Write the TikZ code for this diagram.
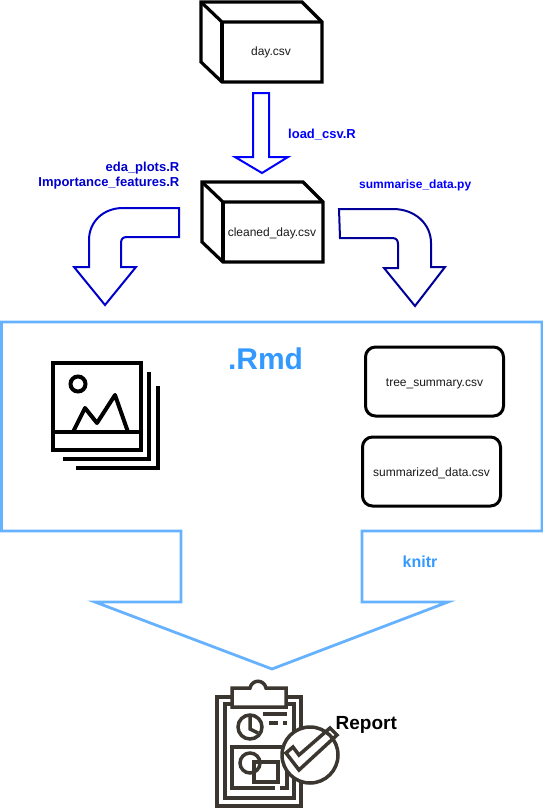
\documentclass[tikz,border=0pt]{standalone}
\usepackage{fontspec}
\setmainfont{Liberation Sans}
\usepackage{tikz}
\usetikzlibrary{calc,positioning}
\definecolor{rmdline}{HTML}{66B2FF}
\definecolor{rmdtext}{HTML}{3399FF}
\definecolor{iconink}{HTML}{3B3630}
\tikzset{
    filelabel/.style={font=\fontsize{12}{14}\selectfont, text=black!90},
    scriptlabel/.style={font=\fontsize{13}{15}\selectfont\bfseries, inner sep=0pt},
    filebox/.style={draw, line width=3pt, rounded corners=10pt, minimum width=138pt, minimum height=69pt, inner sep=0pt, text height=12pt, text depth=2pt},
    cubeline/.style={line width=3.2pt, line join=miter},
    rmdarrow/.style={draw=rmdline, line width=2.8pt, line join=miter},
    stackline/.style={line width=4.5pt},
    iconline/.style={draw=iconink, line width=3.5pt}
}
\begin{document}
\begin{tikzpicture}[x=1pt,y=-1pt]
\useasboundingbox (0,0) rectangle (543,811);

% data cubes
\foreach \cx/\cy in {201/2, 202/182} {
    \draw[cubeline, shift={(\cx,\cy)}] (0,0) -- (101,0) -- (121,20) -- (121,80) -- (21,80) -- (0,60) -- cycle;
    \draw[cubeline, shift={(\cx,\cy)}] (0,0) -- (21,20) -- (121,20);
    \draw[cubeline, shift={(\cx,\cy)}] (21,20) -- (21,80);
}
\node[filelabel] (day) at (271,52) {day.csv};
\node[filelabel] (cleaned) at (272,233) {cleaned\_day.csv};

% block arrow from day.csv
\draw[blue, line width=2pt] (253,93) -- (269,93) -- (269,157) -- (288,157) -- (262,173) -- (235,157) -- (253,157) -- cycle;
\node[scriptlabel, text=blue, anchor=west] (loadcsv) at (288,135) {load\_csv.R};

% block arrow to the plots
\draw[draw={rgb,255:red,0;green,0;blue,204}, line width=2pt] (179,208) -- (123,208) .. controls (103,208) and (89,222) .. (89,240) -- (89,267) -- (74,267) -- (105,305) -- (136,267) -- (121,267) -- (121,243) .. controls (121,239) and (123,237) .. (127,237) -- (179,237) -- cycle;
\node[scriptlabel, text={rgb,255:red,0;green,0;blue,204}, anchor=east] (edaplots) at (179.5,168) {eda\_plots.R};
\node[scriptlabel, text={rgb,255:red,0;green,0;blue,204}, anchor=east] (importance) at (179.5,183) {Importance\_features.R};

% block arrow to the summaries
\draw[draw={rgb,255:red,0;green,0;blue,153}, line width=2pt] (339,209) -- (393,209) .. controls (415,209) and (431,224) .. (431,243) -- (431,267) -- (445,267) -- (415,306) -- (384,268) -- (398,268) -- (398,244) .. controls (398,240) and (396,238) .. (392,238) -- (340,238) -- cycle;
\node[scriptlabel, font=\fontsize{12}{14}\selectfont\bfseries, text=blue, anchor=west] (summarise) at (359,185) {summarise\_data.py};

% Rmd outline with its arrow
\draw[rmdarrow] (181,531) -- (1.5,531) -- (1.5,322) -- (542,322) -- (542,531) -- (362,531) -- (362,602) -- (448,602) -- (272,669) -- (95,602) -- (181,602) -- cycle;
\node[font=\fontsize{30}{34}\selectfont\bfseries, text=rmdtext] (rmd) at (265.5,359) {.Rmd};
\node[font=\fontsize{16}{18}\selectfont\bfseries, text=rmdtext] (knitr) at (420,562) {knitr};

% summary tables
\node[filebox, filelabel] (treesummary) at (434.5,381.5) {tree\_summary.csv};
\node[filebox, filelabel] (summarized) at (431.5,471.5) {summarized\_data.csv};

% plots icon
\draw[stackline] (53,363) rectangle (141,450);
\draw[line width=4pt] (53,432) -- (141,432);
\draw[line width=4pt] (78,384) circle (7.5);
\draw[line width=4pt, line join=round] (73,432) -- (85,408) -- (97,423) -- (115,395) -- (128,432);
\draw[stackline] (149,372) -- (149,459) -- (63,459);
\draw[stackline] (158,386) -- (158,468) -- (76,468);

% report icon
\draw[iconline] (217,697) rectangle (301,806);
\draw[iconline] (225,704) rectangle (294,798);
\draw[iconline, fill=white] (232,707) -- (232,688) -- (250,688) .. controls (252,679) and (264,679) .. (266,688) -- (286,688) -- (286,707) -- cycle;
\draw[iconline] (250,727) circle (12);
\draw[iconline] (250,716) -- (250,729) -- (258,733);
\draw[iconline] (263,714) -- (287,714);
\draw[iconline] (269,723) -- (278,723);
\draw[iconline] (283,723) -- (287,723);
\draw[iconline] (275,788) -- (232,788) -- (232,747) -- (287,747);
\draw[iconline] (280,788) -- (287,788) -- (287,770);
\draw[iconline] (250,763) circle (10);
\draw[iconline] (254,762) rectangle (278,782);
\draw[iconline, fill=white] (310,755) circle (28);
\draw[iconline, line join=miter] (286,753) -- (293,747) -- (299,755) -- (330,728) -- (337,735) -- (299,770) -- cycle;
\node[font=\fontsize{19}{21}\selectfont\bfseries, anchor=west, inner sep=0pt] (report) at (335.5,725) {Report};
\end{tikzpicture}
\end{document}
